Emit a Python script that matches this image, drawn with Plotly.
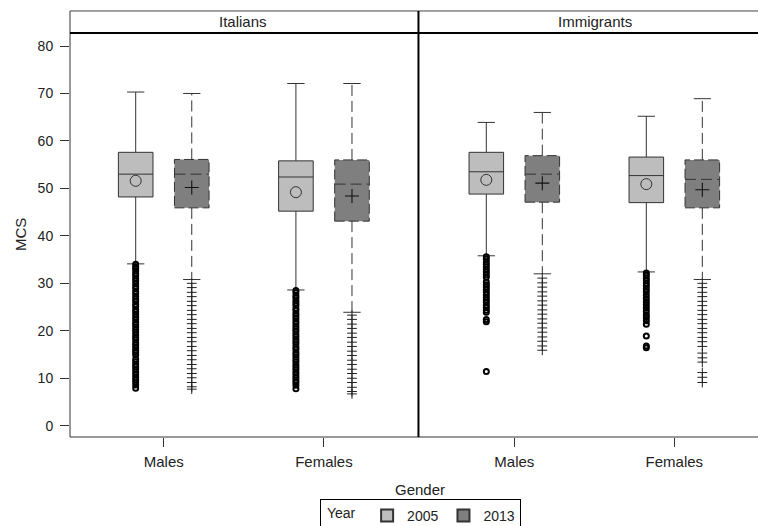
import plotly.graph_objects as go

# ---------------- data ----------------
panels = ["Italians", "Immigrants"]
genders = ["Males", "Females"]
years = ["2005", "2013"]

# summary statistics, indexed [panel][gender]
q1_2005 = [[48.2, 45.2], [48.8, 47.0]]
med_2005 = [[53.0, 52.4], [53.5, 52.7]]
q3_2005 = [[57.6, 55.8], [57.6, 56.6]]
low_2005 = [[34.1, 28.6], [35.8, 32.4]]
up_2005 = [[70.3, 72.1], [63.9, 65.2]]
mean_2005 = [[51.6, 49.2], [51.8, 50.9]]

q1_2013 = [[45.9, 43.1], [47.1, 45.9]]
med_2013 = [[53.0, 50.9], [53.0, 51.9]]
q3_2013 = [[56.1, 56.0], [56.9, 56.0]]
low_2013 = [[30.8, 23.9], [32.0, 30.8]]
up_2013 = [[70.0, 72.1], [66.0, 68.9]]
mean_2013 = [[50.2, 48.4], [51.1, 49.7]]

# outliers, indexed [panel][gender]
out_2005 = [
    [
        [34.0, 33.5, 33.1, 32.6, 32.0, 31.6, 31.0, 30.5, 29.9, 29.4, 28.9, 28.3,
         27.8, 27.2, 26.7, 26.2, 25.6, 25.1, 24.5, 24.0, 23.5, 22.9, 22.4, 21.8,
         21.3, 20.8, 20.2, 19.7, 19.1, 18.6, 18.1, 17.5, 17.0, 16.4, 15.9, 15.4,
         14.9, 14.0, 13.5, 12.9, 12.4, 11.9, 11.3, 10.8, 10.2, 9.7, 9.2, 8.6, 7.9],
        [28.5, 28.0, 27.4, 26.9, 26.3, 25.8, 25.3, 24.7, 24.2, 23.6, 23.1, 22.6,
         22.0, 21.5, 20.9, 20.4, 19.9, 19.3, 18.8, 18.2, 17.7, 17.2, 16.6, 16.1,
         15.5, 15.0, 14.5, 13.9, 13.4, 12.8, 12.3, 11.8, 11.2, 10.7, 10.1, 9.6,
         9.1, 8.5, 7.8],
    ],
    [
        [35.6, 35.1, 34.5, 34.0, 33.5, 32.9, 32.4, 31.8, 31.3, 30.3, 29.7, 29.2,
         28.7, 28.1, 27.6, 27.0, 26.5, 26.0, 25.4, 24.9, 24.3, 23.9, 22.4, 21.9,
         11.4],
        [32.2, 31.7, 31.1, 30.6, 30.0, 29.5, 28.8, 28.2, 27.5, 26.8, 26.1, 25.5,
         24.8, 24.1, 23.4, 22.8, 22.1, 21.4, 18.9, 16.8, 16.4],
    ],
]
out_2013 = [
    [
        [30.0, 29.1, 28.1, 27.2, 26.2, 25.3, 24.3, 23.4, 22.4, 21.5, 20.5, 19.6,
         18.6, 17.7, 16.7, 15.8, 14.8, 13.9, 12.9, 12.0, 11.0, 10.1, 9.1, 8.2, 7.7],
        [23.3, 22.4, 21.4, 20.5, 19.5, 18.6, 17.6, 16.7, 15.7, 14.8, 13.8, 12.9,
         11.9, 11.0, 10.0, 9.1, 8.1, 7.2, 6.7],
    ],
    [
        [31.1, 30.1, 29.2, 28.2, 27.3, 26.3, 25.4, 24.4, 23.5, 22.5, 21.6, 20.6,
         19.7, 18.7, 17.8, 16.8, 15.9],
        [30.0, 29.1, 28.1, 27.2, 26.2, 25.3, 24.3, 23.4, 22.4, 21.5, 20.5, 19.6,
         18.6, 17.7, 16.7, 15.3, 14.3, 13.4, 11.2, 10.2, 9.1],
    ],
]

yticks = [0, 10, 20, 30, 40, 50, 60, 70, 80]

# ---------------- style ----------------
FILL_2005 = "#bdbdbd"
FILL_2013 = "#7f7f7f"
LINE = "#333333"
TXT = "#222222"
FONT = "Liberation Sans, Arial, sans-serif"
OFF = 0.175      # offset of each year from the gender tick
BW = 0.216       # box width (data units)
CAP = BW * 0.25  # half cap width
DASH = "11px,5px"

X_DOMAIN_SPLIT = 0.5065
HEADER_H = 0.0545

fig = go.Figure()

for p in range(2):
    xa = "x" if p == 0 else "x2"
    for g in range(2):
        # ---------- 2005 : solid box ----------
        x5 = g - OFF
        fig.add_trace(go.Box(
            x=[x5], q1=[q1_2005[p][g]], median=[med_2005[p][g]], q3=[q3_2005[p][g]],
            lowerfence=[low_2005[p][g]], upperfence=[up_2005[p][g]],
            width=BW, whiskerwidth=0.5, fillcolor=FILL_2005,
            line=dict(color=LINE, width=1), boxpoints=False,
            xaxis=xa, yaxis="y", showlegend=False, hoverinfo="skip"))
        fig.add_trace(go.Scatter(
            x=[x5] * len(out_2005[p][g]), y=out_2005[p][g], mode="markers",
            marker=dict(symbol="circle-open", size=5, color="#000000",
                        line=dict(width=2, color="#000000")),
            xaxis=xa, yaxis="y", showlegend=False, hoverinfo="skip"))
        fig.add_trace(go.Scatter(
            x=[x5], y=[mean_2005[p][g]], mode="markers",
            marker=dict(symbol="circle-open", size=11, color=LINE,
                        line=dict(width=1, color=LINE)),
            xaxis=xa, yaxis="y", showlegend=False, hoverinfo="skip"))

        # ---------- 2013 : dashed box ----------
        x3 = g + OFF
        l, r = x3 - BW / 2, x3 + BW / 2
        a, b = q1_2013[p][g], q3_2013[p][g]
        fig.add_trace(go.Scatter(
            x=[l, r, r, l, l], y=[a, a, b, b, a], mode="lines", fill="toself",
            fillcolor=FILL_2013, line=dict(color=LINE, width=1, dash="10px,4px"),
            xaxis=xa, yaxis="y", showlegend=False, hoverinfo="skip"))
        fig.add_trace(go.Scatter(
            x=[l, r, None, x3, x3, None, x3, x3],
            y=[med_2013[p][g], med_2013[p][g], None,
               b, up_2013[p][g], None, a, low_2013[p][g]],
            mode="lines", line=dict(color=LINE, width=1, dash=DASH),
            xaxis=xa, yaxis="y", showlegend=False, hoverinfo="skip"))
        fig.add_trace(go.Scatter(
            x=[x3 - CAP, x3 + CAP, None, x3 - CAP, x3 + CAP],
            y=[up_2013[p][g], up_2013[p][g], None, low_2013[p][g], low_2013[p][g]],
            mode="lines", line=dict(color=LINE, width=1),
            xaxis=xa, yaxis="y", showlegend=False, hoverinfo="skip"))
        fig.add_trace(go.Scatter(
            x=[x3] * len(out_2013[p][g]), y=out_2013[p][g], mode="markers",
            marker=dict(symbol="cross-thin-open", size=7, color="#222222",
                        line=dict(width=1, color="#222222")),
            xaxis=xa, yaxis="y", showlegend=False, hoverinfo="skip"))
        fig.add_trace(go.Scatter(
            x=[x3], y=[mean_2013[p][g]], mode="markers",
            marker=dict(symbol="cross-thin-open", size=10, color="#111111",
                        line=dict(width=1.1, color="#111111")),
            xaxis=xa, yaxis="y", showlegend=False, hoverinfo="skip"))

# legend entries
for yr, col in zip(years, [FILL_2005, FILL_2013]):
    fig.add_trace(go.Scatter(
        x=[None], y=[None], mode="markers", name=yr,
        marker=dict(symbol="square", size=10, color=col, line=dict(width=1, color=LINE)),
        xaxis="x", yaxis="y", showlegend=True))

axis_common = dict(showgrid=False, zeroline=False, showline=False, ticks="outside",
                   ticklen=9, tickwidth=1, tickcolor=LINE, ticklabelstandoff=2,
                   tickfont=dict(family=FONT, size=15, color=TXT),
                   tickvals=[0, 1], ticktext=genders, fixedrange=True)

fig.update_layout(
    width=758, height=526,
    margin=dict(l=70, r=0, t=33, b=89, pad=0, autoexpand=False),
    paper_bgcolor="white", plot_bgcolor="white",
    boxmode="overlay",
    xaxis=dict(domain=[0, X_DOMAIN_SPLIT], range=[-0.585, 1.590], anchor="y", **axis_common),
    xaxis2=dict(domain=[X_DOMAIN_SPLIT, 1], range=[-0.599, 1.523], anchor="y", **axis_common),
    yaxis=dict(range=[-2.38, 82.74], tickvals=yticks, ticks="outside", ticklen=9,
               tickwidth=1, tickcolor=LINE, showgrid=False, zeroline=False, showline=False,
               ticklabelstandoff=4,
               tickfont=dict(family=FONT, size=14, color=TXT), fixedrange=True),
    legend=dict(orientation="h", x=0.5095, xanchor="center", y=-0.153, yanchor="top",
                bordercolor="#000000", borderwidth=1, bgcolor="white",
                font=dict(family=FONT, size=14, color=TXT),
                title=dict(text="\u00a0Year\u00a0", font=dict(family=FONT, size=14, color=TXT),
                           side="left"),
                itemsizing="constant", itemwidth=30, tracegroupgap=0),
    showlegend=True,
)

# frame and panel header
shapes = [
    dict(type="line", xref="paper", yref="paper", x0=0, x1=1, y0=0, y1=0,
         line=dict(color=LINE, width=1)),
    dict(type="line", xref="paper", yref="paper", x0=0, x1=0, y0=0, y1=1 + HEADER_H,
         line=dict(color=LINE, width=1)),
    dict(type="line", xref="paper", yref="paper", x0=0, x1=1, y0=1 + HEADER_H, y1=1 + HEADER_H,
         line=dict(color="#444444", width=1)),
    dict(type="line", xref="paper", yref="paper", x0=0, x1=1, y0=1, y1=1,
         line=dict(color="#000000", width=2)),
    dict(type="line", xref="paper", yref="paper", x0=X_DOMAIN_SPLIT, x1=X_DOMAIN_SPLIT,
         y0=0, y1=1 + HEADER_H, line=dict(color="#000000", width=2)),
]
fig.update_layout(shapes=shapes)

annotations = [
    dict(text=panels[0], xref="paper", yref="paper", x=0.252, y=1 + HEADER_H / 2,
         xanchor="center", yanchor="middle", showarrow=False,
         font=dict(family=FONT, size=15, color=TXT)),
    dict(text=panels[1], xref="paper", yref="paper", x=0.763, y=1 + HEADER_H / 2,
         xanchor="center", yanchor="middle", showarrow=False,
         font=dict(family=FONT, size=15, color=TXT)),
    dict(text="Gender", xref="paper", yref="paper", x=0.509, y=0, yshift=-52,
         xanchor="center", yanchor="middle", showarrow=False,
         font=dict(family=FONT, size=15, color=TXT)),
    dict(text="MCS", xref="paper", yref="paper", x=0, xshift=-50, y=0.5,
         xanchor="center", yanchor="middle", textangle=-90, showarrow=False,
         font=dict(family=FONT, size=15, color=TXT)),
]
fig.update_layout(annotations=annotations)

fig.write_html(
    "out.html",
    config={"displayModeBar": False, "staticPlot": True},
    post_script="document.body.style.margin='0px';document.body.style.overflow='hidden';",
)
